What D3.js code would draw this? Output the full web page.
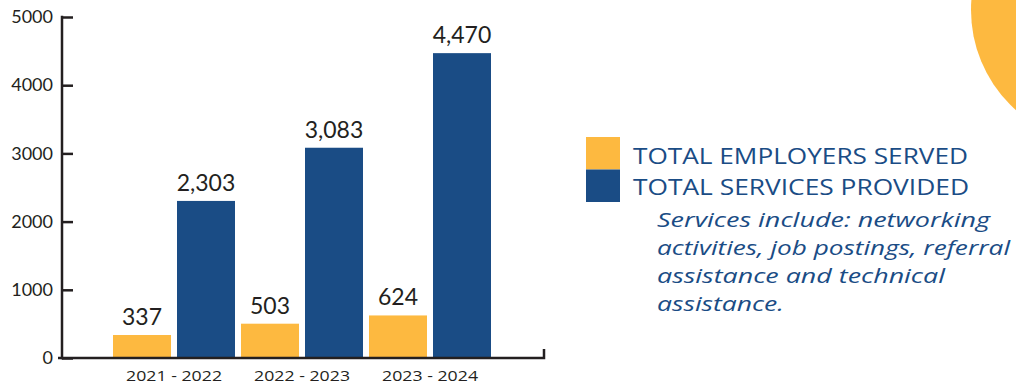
<!DOCTYPE html>
<html>
<head>
<meta charset="utf-8">
<script src="https://cdn.jsdelivr.net/npm/d3@7"></script>
<style>
  body { margin: 0; background: #fff; }
  svg { display: block; }
</style>
</head>
<body>
<svg id="chart" width="1016" height="385"></svg>
<script>
// chart data
const categories = ['2021 - 2022', '2022 - 2023', '2023 - 2024'];
const employersServed = [337, 503, 624];
const servicesProvided = [2303, 3083, 4470];
const seriesNames = ['TOTAL EMPLOYERS SERVED', 'TOTAL SERVICES PROVIDED'];
const yTicks = [0, 1000, 2000, 3000, 4000, 5000];
const noteLines = [
  'Services include: networking',
  'activities, job postings, referral',
  'assistance and technical',
  'assistance.'
];
const noteWidths = [333, 353, 288, 127];

const orange = '#fdb940';
const blue = '#1a4c85';
const ink = '#231f20';

const svg = d3.select('#chart');

// decorative circle top right
svg.append('circle')
  .attr('cx', 1105)
  .attr('cy', 10)
  .attr('r', 134)
  .attr('fill', orange);

const x0 = d3.scaleBand().domain(categories).range([113, 491]).paddingInner(6 / 128).paddingOuter(0);
const x1 = d3.scaleBand().domain([0, 1]).range([0, x0.bandwidth()]).paddingInner(6 / 64);
const y = d3.scaleLinear().domain([0, 5000]).range([358, 17]);

const rows = categories.map((c, i) => ({ cat: c, vals: [employersServed[i], servicesProvided[i]] }));

const groups = svg.append('g').selectAll('g')
  .data(rows)
  .enter()
  .append('g')
  .attr('transform', d => `translate(${x0(d.cat)},0)`);

groups.selectAll('rect')
  .data(d => d.vals.map((v, k) => ({ k, v })))
  .enter()
  .append('rect')
  .attr('x', d => x1(d.k))
  .attr('width', x1.bandwidth())
  .attr('y', d => y(d.v))
  .attr('height', d => y(0) - y(d.v))
  .attr('fill', d => (d.k === 0 ? orange : blue));

groups.selectAll('text')
  .data(d => d.vals.map((v, k) => ({ k, v })))
  .enter()
  .append('text')
  .attr('x', d => x1(d.k) + x1.bandwidth() / 2)
  .attr('y', d => y(d.v) - 10)
  .attr('text-anchor', 'middle')
  .attr('font-family', 'Lato, sans-serif')
  .attr('font-size', 23)
  .attr('fill', ink)
  .text(d => d3.format(',')(d.v));

// y axis
const yAxis = svg.append('g')
  .attr('transform', 'translate(62,0)')
  .call(d3.axisRight(y).tickValues(yTicks).tickSize(11).tickFormat(d3.format('d')));
yAxis.select('.domain').remove();
yAxis.selectAll('.tick line').attr('stroke', ink).attr('stroke-width', 2.5);
yAxis.selectAll('.tick text')
  .attr('text-anchor', 'end')
  .attr('x', -9)
  .attr('font-family', 'Lato, sans-serif')
  .attr('font-size', 18)
  .attr('fill', ink);

svg.append('line')
  .attr('x1', 62).attr('x2', 62)
  .attr('y1', y(5000) - 1.2).attr('y2', y(0) + 1.2)
  .attr('stroke', ink).attr('stroke-width', 2.5);

// x axis
const xAxis = svg.append('g')
  .attr('transform', `translate(0,${y(0)})`)
  .call(d3.axisBottom(x0).tickSize(0).tickPadding(12));
xAxis.select('.domain').remove();
xAxis.selectAll('.tick text')
  .attr('font-family', '"Open Sans", sans-serif')
  .attr('font-size', 15)
  .attr('font-weight', 500)
  .attr('fill', ink)
  .attr('textLength', 96)
  .attr('lengthAdjust', 'spacingAndGlyphs');

svg.append('path')
  .attr('d', `M58,${y(0)}H544V${y(0) - 9}`)
  .attr('fill', 'none')
  .attr('stroke', ink)
  .attr('stroke-width', 2.5);

// legend
const legend = svg.append('g').attr('transform', 'translate(586,137)');
legend.selectAll('rect')
  .data(seriesNames)
  .enter()
  .append('rect')
  .attr('x', 0)
  .attr('y', (d, i) => i * 32.5)
  .attr('width', 34)
  .attr('height', 32.5)
  .attr('fill', (d, i) => (i === 0 ? orange : blue));

legend.selectAll('text')
  .data(seriesNames)
  .enter()
  .append('text')
  .attr('x', 47)
  .attr('y', (d, i) => 27 + i * 31)
  .attr('font-family', '"Open Sans", sans-serif')
  .attr('font-size', 21)
  .attr('fill', blue)
  .attr('textLength', (d, i) => (i === 0 ? 335 : 336))
  .attr('lengthAdjust', 'spacingAndGlyphs')
  .text(d => d);

svg.append('g')
  .selectAll('text')
  .data(noteLines)
  .enter()
  .append('text')
  .attr('x', 657)
  .attr('y', (d, i) => 227 + i * 28)
  .attr('font-family', '"Open Sans", sans-serif')
  .attr('font-style', 'italic')
  .attr('font-size', 20)
  .attr('fill', blue)
  .attr('textLength', (d, i) => noteWidths[i])
  .attr('lengthAdjust', 'spacingAndGlyphs')
  .text(d => d);
</script>
</body>
</html>
